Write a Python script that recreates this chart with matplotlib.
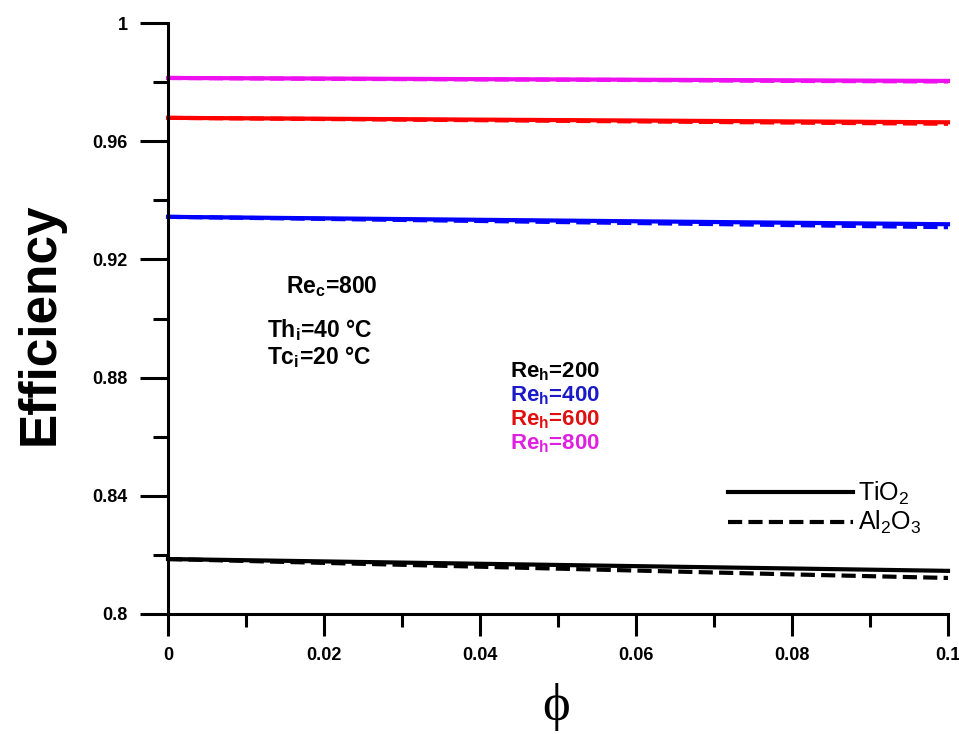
import numpy as np
import matplotlib
matplotlib.use('Agg')
import matplotlib.pyplot as plt
from matplotlib.lines import Line2D
from matplotlib.ticker import MultipleLocator, FixedFormatter, FixedLocator

plt.rcParams['font.family'] = ['Liberation Sans', 'DejaVu Sans']

# volume fraction of nanoparticles
phi = [0, 0.02, 0.04, 0.06, 0.08, 0.1]

# efficiency, TiO2 (solid) and Al2O3 (dashed), for each Re_h
re_h = [200, 400, 600, 800]
colors = ['#000000', '#0000ff', '#ff0000', '#ee10ee']
eff_tio2 = [
    [0.8186, 0.8178, 0.8170, 0.8162, 0.8154, 0.8146],
    [0.9344, 0.9339, 0.9334, 0.9329, 0.9324, 0.9319],
    [0.9679, 0.9676, 0.9673, 0.9670, 0.9667, 0.9664],
    [0.9814, 0.9812, 0.9810, 0.9808, 0.9806, 0.9804],
]
eff_al2o3 = [
    [0.8186, 0.8173, 0.8160, 0.8147, 0.8134, 0.8122],
    [0.9344, 0.9337, 0.9330, 0.9323, 0.9316, 0.9309],
    [0.9679, 0.9675, 0.9671, 0.9667, 0.9663, 0.9659],
    [0.9814, 0.9811, 0.9809, 0.9807, 0.9804, 0.9802],
]

xticks = [0, 0.02, 0.04, 0.06, 0.08, 0.1]
xtick_labels = ['0', '0.02', '0.04', '0.06', '0.08', '0.1']
yticks = [0.8, 0.84, 0.88, 0.92, 0.96, 1.0]
ytick_labels = ['0.8', '0.84', '0.88', '0.92', '0.96', '1']

W, H = 959, 734
fig = plt.figure(figsize=(W / 100, H / 100), dpi=100)
ax = fig.add_axes([168 / W, 1 - 614 / H, 780 / W, 591 / H])

lw = 3
dash = (3.4, 1.5)
for c, ys_s, ys_d in zip(colors, eff_tio2, eff_al2o3):
    ax.plot(phi, ys_d, color=c, lw=lw, dashes=dash, clip_on=False)
    ax.plot(phi, ys_s, color=c, lw=lw, clip_on=False)

ax.set_xlim(0, 0.1)
ax.set_ylim(0.8, 1.0)

for s in ['top', 'right']:
    ax.spines[s].set_visible(False)
for s in ['left', 'bottom']:
    ax.spines[s].set_linewidth(2.2)

ax.xaxis.set_major_locator(FixedLocator(xticks))
ax.xaxis.set_major_formatter(FixedFormatter(xtick_labels))
ax.xaxis.set_minor_locator(MultipleLocator(0.01))
ax.yaxis.set_major_locator(FixedLocator(yticks))
ax.yaxis.set_major_formatter(FixedFormatter(ytick_labels))
ax.yaxis.set_minor_locator(MultipleLocator(0.02))

ax.tick_params(axis='y', which='major', direction='out', length=20, width=2.2, pad=9)
ax.tick_params(axis='y', which='minor', direction='out', length=11, width=2.2)
ax.tick_params(axis='x', which='major', direction='out', length=16, width=2.2, pad=8)
ax.tick_params(axis='x', which='minor', direction='out', length=9, width=2.2)
for lab in ax.get_xticklabels() + ax.get_yticklabels():
    lab.set_fontsize(13)
    lab.set_fontweight('bold')

fig.text(40 / W, 1 - 324 / H, 'Efficiency', rotation=90, fontsize=37,
         fontweight='bold', ha='center', va='center')
fig.text(556 / W, 1 - 707 / H, '\u03d5', fontsize=38,
         family=['Liberation Serif', 'DejaVu Serif'], ha='center', va='center')

# operating conditions
fig.text(332 / W, 1 - 287 / H, r'Re$_\mathregular{c}$=800', fontsize=16.5,
         fontweight='bold', ha='center', va='center')
fig.text(267 / W, 1 - 330 / H, r'Th$_\mathregular{i}$=40 °C', fontsize=16.5,
         fontweight='bold', ha='left', va='center')
fig.text(267 / W, 1 - 357 / H, r'Tc$_\mathregular{i}$=20 °C', fontsize=16.5,
         fontweight='bold', ha='left', va='center')

label_y = [372, 396, 420, 444]
text_colors = ['#000000', '#1a1ac8', '#e01010', '#e020e0']
for r, c, yy in zip(re_h, text_colors, label_y):
    fig.text(510 / W, 1 - yy / H, r'Re$_\mathregular{h}$=%d' % r, fontsize=16,
             fontweight='bold', color=c, ha='left', va='center')

handles = [Line2D([], [], color='k', lw=lw),
           Line2D([], [], color='k', lw=lw, dashes=dash)]
leg = ax.legend(handles, [r'TiO$_\mathregular{2}$', r'Al$_\mathregular{2}$O$_\mathregular{3}$'],
                loc='center left', bbox_to_anchor=(728 / W, 1 - 508 / H),
                bbox_transform=fig.transFigure, frameon=False, fontsize=18,
                handlelength=5.0, handletextpad=0.2, labelspacing=0.1,
                borderpad=0, borderaxespad=0)

fig.savefig('out.png', dpi=100)
